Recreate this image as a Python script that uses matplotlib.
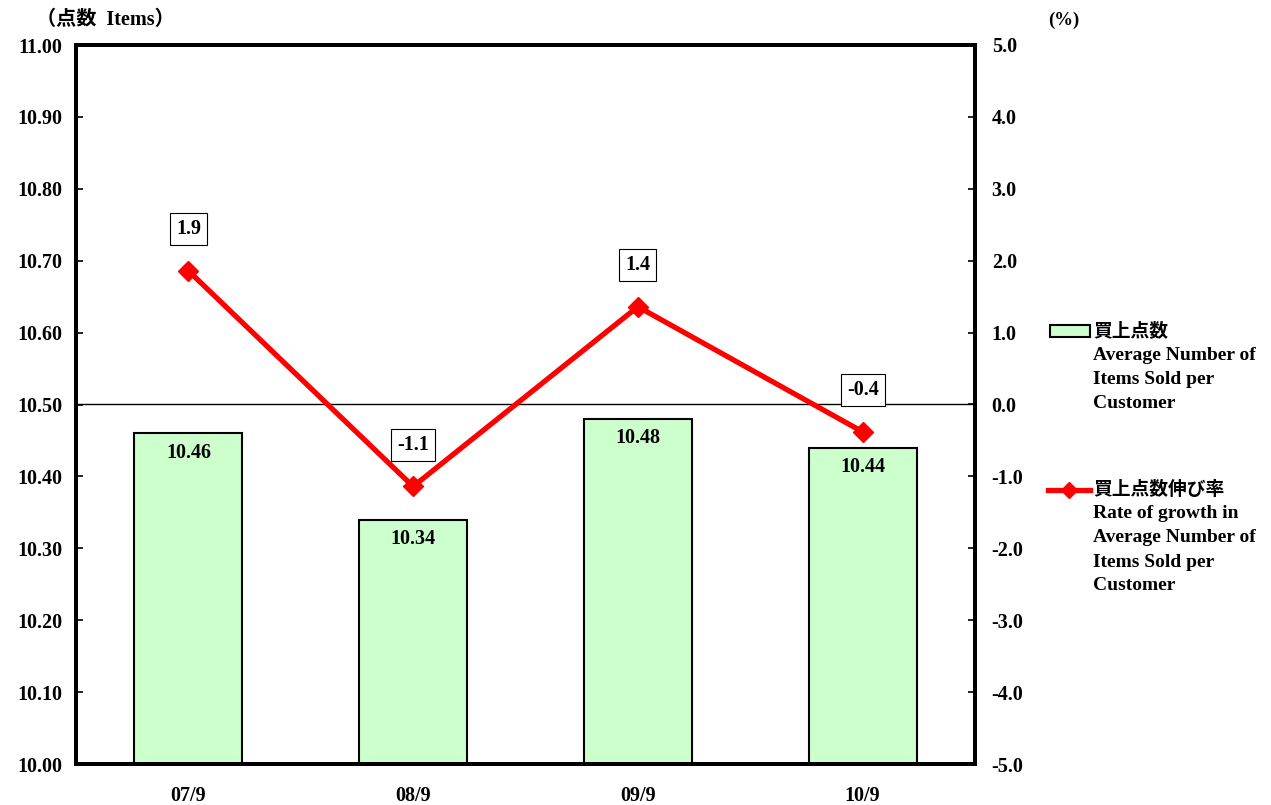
import matplotlib.pyplot as plt
from matplotlib.patches import Rectangle
from matplotlib.lines import Line2D

# data
months = ["07/9", "08/9", "09/9", "10/9"]
items = [10.46, 10.34, 10.48, 10.44]
growth = [1.86, -1.14, 1.36, -0.38]

left_ticks = [10.0 + 0.1 * i for i in range(11)]
right_ticks = list(range(-5, 6))

fam = ["Liberation Serif", "Noto Sans CJK JP", "DejaVu Sans"]
plt.rcParams["font.family"] = fam
plt.rcParams["font.weight"] = "bold"
fs = 14.5

W, H = 1271, 805
fig = plt.figure(figsize=(W / 100, H / 100), dpi=100)
ax = fig.add_axes([76 / W, 1 - 764 / H, (975 - 76) / W, (764 - 45) / H])
ax2 = ax.twinx()

x = range(len(months))
ax.bar(x, items, width=0.48, color="#ccffcc", edgecolor="black", linewidth=1.5, zorder=2)
for i, v in enumerate(items):
    ax.annotate(f"{v:.2f}", (i, v), xytext=(0, -14), textcoords="offset points",
                ha="center", va="center", fontsize=fs, fontweight="bold")

ax.set_xlim(-0.5, len(months) - 0.5)
ax.set_ylim(10.0, 11.0)
ax.set_yticks(left_ticks)
ax.set_yticklabels([f"{t:.2f}" for t in left_ticks])
ax.set_xticks(list(x))
ax.set_xticklabels(months)
ax.tick_params(axis="x", length=0, pad=16, labelsize=fs)
ax.tick_params(axis="y", direction="in", length=5, width=1.2, pad=10, labelsize=fs)

ax2.set_ylim(-5, 5)
ax2.set_yticks(right_ticks)
ax2.set_yticklabels([f"{t:.1f}" for t in right_ticks])
ax2.tick_params(axis="y", direction="in", length=5, width=1.2, pad=12, labelsize=fs)
ax2.axhline(0, color="black", linewidth=1, zorder=1)
ax2.plot(list(x), growth, color="#ff0000", linewidth=3.8, marker="D", markersize=10, zorder=3)
for i, v in enumerate(growth):
    ax2.annotate(f"{v:.1f}", (i, v), xytext=(0, 30), textcoords="offset points",
                 ha="center", va="center", fontsize=fs, fontweight="bold",
                 bbox=dict(boxstyle="square,pad=0.3", fc="white", ec="black", lw=0.8))

for a in (ax, ax2):
    for s in a.spines.values():
        s.set_linewidth(2.8)

# axis unit labels
fig.text(36 / W, 1 - 20 / H, "（点数  Items）", fontsize=fs, fontweight="bold", va="center", ha="left")
fig.text(1048 / W, 1 - 20 / H, "(%)", fontsize=fs - 1, fontweight="bold", va="center", ha="left")

# legend (drawn by hand to keep the handle next to the first line)
fig.add_artist(Rectangle((1050 / W, 1 - 337 / H), 40 / W, 12 / H, transform=fig.transFigure,
                         facecolor="#ccffcc", edgecolor="black", linewidth=1.5))
fig.add_artist(Line2D([1048 / W, 1090 / W], [1 - 490 / H, 1 - 490 / H], transform=fig.transFigure,
                      color="#ff0000", linewidth=3.8))
fig.add_artist(Line2D([1069 / W], [1 - 490 / H], transform=fig.transFigure,
                      color="#ff0000", marker="D", markersize=8, linestyle="none"))

leg1 = ["買上点数", "Average Number of", "Items Sold per", "Customer"]
leg2 = ["買上点数伸び率", "Rate of growth in", "Average Number of", "Items Sold per", "Customer"]
for y0, lines in ((331, leg1), (490, leg2)):
    for k, t in enumerate(lines):
        fig.text(1093 / W, 1 - (y0 + 24 * k) / H, t, fontsize=13.5 if k == 0 else 14,
                 fontweight="bold", va="center", ha="left")

fig.savefig("out.png", dpi=100)
